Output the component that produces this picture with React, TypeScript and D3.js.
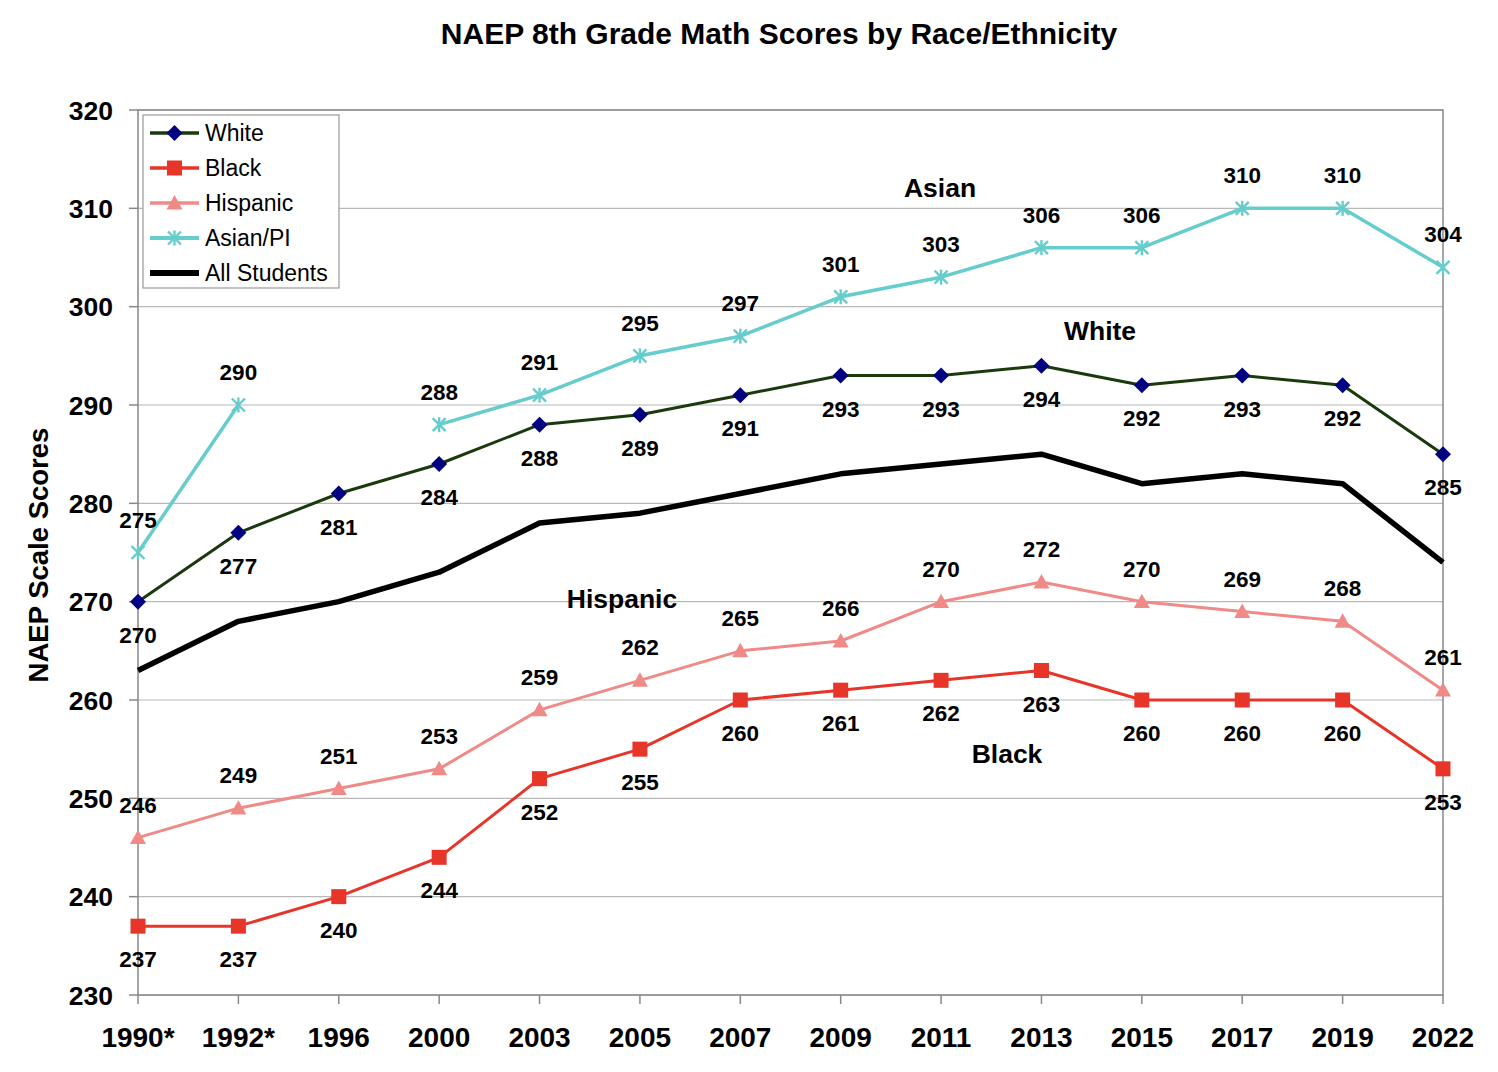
import React from "react";
import * as d3 from "d3";

const years = ["1990*", "1992*", "1996", "2000", "2003", "2005", "2007", "2009", "2011", "2013", "2015", "2017", "2019", "2022"];
const white = [270, 277, 281, 284, 288, 289, 291, 293, 293, 294, 292, 293, 292, 285];
const black = [237, 237, 240, 244, 252, 255, 260, 261, 262, 263, 260, 260, 260, 253];
const hispanic = [246, 249, 251, 253, 259, 262, 265, 266, 270, 272, 270, 269, 268, 261];
const asian: (number | null)[] = [275, 290, null, 288, 291, 295, 297, 301, 303, 306, 306, 310, 310, 304];
const allStudents = [263, 268, 270, 273, 278, 279, 281, 283, 284, 285, 282, 283, 282, 274];
const yTicks = [230, 240, 250, 260, 270, 280, 290, 300, 310, 320];

const W = 1498, H = 1072;
const L = 138, R = 1443, T = 110, B = 995;
const FONT = "'Liberation Sans', Arial, sans-serif";

type Series = { name: string; values: (number | null)[]; color: string; width: number; marker: string; labelPos: "above" | "below" | null };

const series: Series[] = [
  { name: "All Students", values: allStudents, color: "#000000", width: 5.5, marker: "none", labelPos: null },
  { name: "White", values: white, color: "#1a3a0e", width: 3, marker: "diamond", labelPos: "below" },
  { name: "Black", values: black, color: "#e8352a", width: 3, marker: "square", labelPos: "below" },
  { name: "Hispanic", values: hispanic, color: "#f08a86", width: 3, marker: "triangle", labelPos: "above" },
  { name: "Asian/PI", values: asian, color: "#66cccc", width: 3.5, marker: "star", labelPos: "above" },
];
const legendOrder = ["White", "Black", "Hispanic", "Asian/PI", "All Students"];

function Marker({ type, x, y, color }: { type: string; x: number; y: number; color: string }) {
  if (type === "diamond") {
    const s = 8;
    return <path d={`M${x},${y - s}L${x + s},${y}L${x},${y + s}L${x - s},${y}Z`} fill="#000080" />;
  }
  if (type === "square") {
    const s = 7.5;
    return <rect x={x - s} y={y - s} width={2 * s} height={2 * s} fill={color} />;
  }
  if (type === "triangle") {
    const s = 8;
    return <path d={`M${x},${y - s}L${x + s},${y + s * 0.8}L${x - s},${y + s * 0.8}Z`} fill={color} />;
  }
  if (type === "star") {
    const s = 6.5;
    return (
      <g stroke={color} strokeWidth={2.4}>
        <line x1={x - s} y1={y - s} x2={x + s} y2={y + s} />
        <line x1={x - s} y1={y + s} x2={x + s} y2={y - s} />
        <line x1={x} y1={y - s - 1} x2={x} y2={y + s + 1} />
      </g>
    );
  }
  return null;
}

export default function App() {
  const x = d3.scalePoint<string>().domain(years).range([L, R]);
  const y = d3.scaleLinear().domain([230, 320]).range([B, T]);
  const line = d3
    .line<number | null>()
    .defined((d) => d !== null)
    .x((_, i) => x(years[i])!)
    .y((d) => y(d as number));

  return (
    <svg width={W} height={H} style={{ position: "absolute", left: 0, top: 0, background: "#fff" }} fontFamily={FONT}>
      <rect x={0} y={0} width={W} height={H} fill="#fff" />
      <text x={779} y={44} textAnchor="middle" fontSize={30} fontWeight="bold">
        NAEP 8th Grade Math Scores by Race/Ethnicity
      </text>
      {/* gridlines */}
      {yTicks.map((t) => (
        <line key={t} x1={L} x2={R} y1={y(t)} y2={y(t)} stroke="#b8b8b8" strokeWidth={1.2} />
      ))}
      <rect x={L} y={T} width={R - L} height={B - T} fill="none" stroke="#888" strokeWidth={1.5} />
      {/* y ticks */}
      {yTicks.map((t) => (
        <g key={"yt" + t}>
          <line x1={L - 9} x2={L} y1={y(t)} y2={y(t)} stroke="#888" strokeWidth={1.5} />
          <text x={113} y={y(t) + 9.5} textAnchor="end" fontSize={26.5} fontWeight="bold">
            {t}
          </text>
        </g>
      ))}
      {years.map((yr) => (
        <g key={"xt" + yr}>
          <line x1={x(yr)} x2={x(yr)} y1={B} y2={B + 9} stroke="#888" strokeWidth={1.5} />
          <text x={x(yr)} y={1047} textAnchor="middle" fontSize={28} fontWeight="bold">
            {yr}
          </text>
        </g>
      ))}
      <text transform={`translate(48,555) rotate(-90)`} textAnchor="middle" fontSize={27.5} fontWeight="bold">
        NAEP Scale Scores
      </text>
      {/* lines */}
      {series.map((s) => (
        <path key={s.name} d={line(s.values) || ""} fill="none" stroke={s.color} strokeWidth={s.width} strokeLinejoin="round" />
      ))}
      {series.map((s) =>
        s.values.map((v, i) =>
          v === null ? null : <Marker key={s.name + i} type={s.marker} x={x(years[i])!} y={y(v)} color={s.color} />
        )
      )}
      {/* data labels */}
      {series.map((s) =>
        s.labelPos
          ? s.values.map((v, i) =>
              v === null ? null : (
                <text
                  key={"l" + s.name + i}
                  x={x(years[i])!}
                  y={y(v) + (s.labelPos === "above" ? -33 : 33) + 8}
                  textAnchor="middle"
                  fontSize={22.5}
                  fontWeight="bold"
                >
                  {v}
                </text>
              )
            )
          : null
      )}
      {/* annotations */}
      <text x={940} y={197} textAnchor="middle" fontSize={26.5} fontWeight="bold">Asian</text>
      <text x={1100} y={340} textAnchor="middle" fontSize={26.5} fontWeight="bold">White</text>
      <text x={622} y={608} textAnchor="middle" fontSize={26.5} fontWeight="bold">Hispanic</text>
      <text x={1007} y={763} textAnchor="middle" fontSize={26.5} fontWeight="bold">Black</text>
      {/* legend */}
      <rect x={143} y={115} width={196} height={173} fill="#fff" stroke="#999" strokeWidth={1.2} />
      {legendOrder.map((name, i) => {
        const s = series.find((d) => d.name === name)!;
        const cy = 133 + i * 35;
        return (
          <g key={"lg" + name}>
            <line x1={150} x2={199} y1={cy} y2={cy} stroke={s.color} strokeWidth={s.width + (s.marker === "none" ? 0.5 : 0.5)} />
            <Marker type={s.marker} x={174.5} y={cy} color={s.color} />
            <text x={205} y={cy + 8} fontSize={23}>
              {name}
            </text>
          </g>
        );
      })}
    </svg>
  );
}
